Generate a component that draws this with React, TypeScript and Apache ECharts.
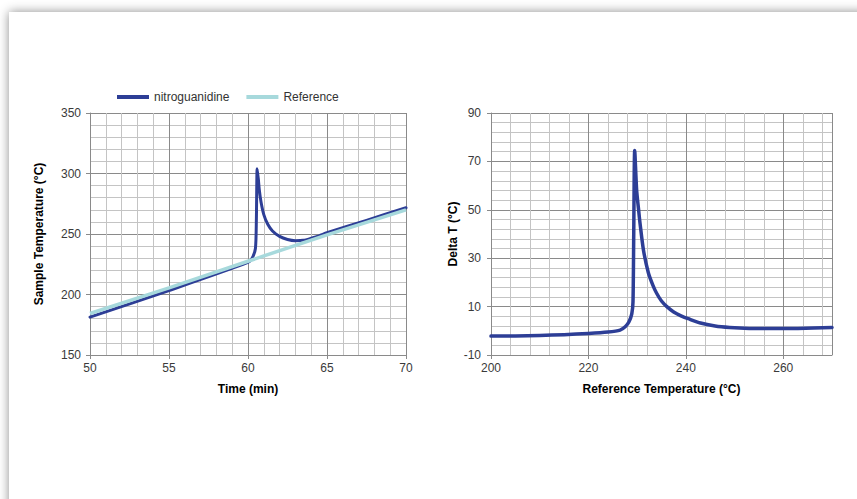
import React, { useEffect, useRef } from "react";
import * as echarts from "echarts";

// Left chart: Sample temperature vs time
const timeNitro = [50, 55, 60, 60.26, 60.47, 60.53, 60.58, 60.65, 60.72, 60.83, 61.0, 61.25, 61.55, 62.0, 62.5, 63.0, 63.5, 64.0, 64.5, 65, 67.5, 70];
const tempNitro = [181.3, 203.3, 226.5, 230, 238, 262, 304, 296, 286, 276, 266, 258, 252.5, 248, 245.5, 244.5, 244.8, 246.5, 248.5, 251, 261.3, 271.7];
const timeRef = [50, 55, 60, 65, 70];
const tempRef = [184.3, 205.5, 227.5, 249.3, 270];

// Right chart: Delta T vs reference temperature
const refTemp = [200, 205, 210, 215, 220, 224, 226.5, 227.6, 228.3, 228.9, 229.15, 229.3, 229.5, 229.9, 230.3, 230.6, 231.3, 232.3, 233.2, 234, 235, 236.1, 237.5, 239, 240.5, 243, 246, 249, 253, 258, 263, 270];
const deltaT = [-2.2, -2.1, -1.9, -1.6, -1.1, -0.5, 0.3, 1.8, 3.6, 7.0, 12, 40, 74.5, 58, 50, 44.3, 33.3, 24, 19, 15.5, 12.3, 10, 7.8, 6.2, 5.0, 3.2, 2.0, 1.4, 1.0, 0.9, 1.0, 1.4];

const seriesNames = ["nitroguanidine", "Reference"];
const darkBlue = "#2d3e96";
const lightCyan = "#a7d9dc";

const FONT = "Liberation Sans, Arial, sans-serif";
const majorColor = "#8a8a8a";
const minorColor = "#c4c4c4";

function zip(xs: number[], ys: number[]) {
  return xs.map((x, i) => [x, ys[i]]);
}

function valueAxis(extra: any) {
  return {
    type: "value",
    nameLocation: "middle",
    nameTextStyle: { fontFamily: FONT, fontSize: 12, fontWeight: "bold", color: "#000" },
    axisLine: { show: true, onZero: false, lineStyle: { color: majorColor, width: 1 } },
    axisTick: { show: true, inside: false, length: 4, lineStyle: { color: majorColor } },
    axisLabel: { fontFamily: FONT, fontSize: 12, color: "#3a3a3a", margin: 9 },
    splitLine: { show: true, lineStyle: { color: majorColor, width: 1 } },
    minorTick: { show: false, splitNumber: 5 },
    minorSplitLine: { show: true, lineStyle: { color: minorColor, width: 1 } },
    ...extra,
  };
}

export default function App() {
  const ref = useRef<HTMLDivElement>(null);
  useEffect(() => {
    if (!ref.current) return;
    const chart = echarts.init(ref.current, null, { renderer: "svg" });
    chart.setOption({
      animation: false,
      backgroundColor: "transparent",
      legend: {
        data: seriesNames,
        left: 117,
        top: 91,
        padding: 0,
        icon: "rect",
        itemWidth: 32,
        itemHeight: 4,
        itemGap: 17,
        textStyle: { fontFamily: FONT, fontSize: 12, color: "#333" },
      },
      grid: [
        { left: 90, top: 113, width: 316, height: 242, containLabel: false, outerBoundsMode: "none" },
        { left: 491, top: 113, width: 341, height: 242, containLabel: false, outerBoundsMode: "none" },
      ],
      xAxis: [
        valueAxis({ gridIndex: 0, min: 50, max: 70, interval: 5, name: "Time (min)", nameGap: 28,
          axisLabel: { fontFamily: FONT, fontSize: 12, color: "#3a3a3a", margin: 7 } }),
        valueAxis({
          gridIndex: 1, min: 200, max: 270, interval: 20, name: "Reference Temperature (°C)", nameGap: 28,
          axisLabel: { fontFamily: FONT, fontSize: 12, color: "#3a3a3a", margin: 7, showMaxLabel: false },
        }),
      ],
      yAxis: [
        valueAxis({ gridIndex: 0, min: 150, max: 350, interval: 50, name: "Sample Temperature (°C)", nameGap: 45 }),
        valueAxis({ gridIndex: 1, min: -10, max: 90, interval: 20, name: "Delta T (°C)", nameGap: 32,
          axisLabel: { fontFamily: FONT, fontSize: 12, color: "#3a3a3a", margin: 10 } }),
      ],
      series: [
        {
          name: seriesNames[0],
          type: "line",
          xAxisIndex: 0,
          yAxisIndex: 0,
          data: zip(timeNitro, tempNitro),
          showSymbol: false,
          smooth: 0.25,
          itemStyle: { color: darkBlue },
          lineStyle: { color: darkBlue, width: 3, cap: "round", join: "round" },
          z: 3,
        },
        {
          name: seriesNames[1],
          type: "line",
          xAxisIndex: 0,
          yAxisIndex: 0,
          data: zip(timeRef, tempRef),
          showSymbol: false,
          itemStyle: { color: lightCyan },
          lineStyle: { color: lightCyan, width: 3.5 },
          z: 4,
        },
        {
          name: "Delta T",
          type: "line",
          xAxisIndex: 1,
          yAxisIndex: 1,
          data: zip(refTemp, deltaT),
          showSymbol: false,
          smooth: 0.25,
          itemStyle: { color: darkBlue },
          lineStyle: { color: darkBlue, width: 3.5, cap: "round", join: "round" },
          z: 3,
        },
      ],
    });
    return () => chart.dispose();
  }, []);

  return (
    <div style={{ position: "absolute", left: 0, top: 0, width: 857, height: 499, background: "#fff", overflow: "hidden" }}>
      <div
        style={{
          position: "absolute",
          left: 9,
          top: 12,
          width: 900,
          height: 560,
          background: "#fff",
          boxShadow: "0 0 10px rgba(0,0,0,0.45)",
        }}
      />
      <div ref={ref} style={{ position: "absolute", left: 0, top: 0, width: 857, height: 499 }} />
    </div>
  );
}
